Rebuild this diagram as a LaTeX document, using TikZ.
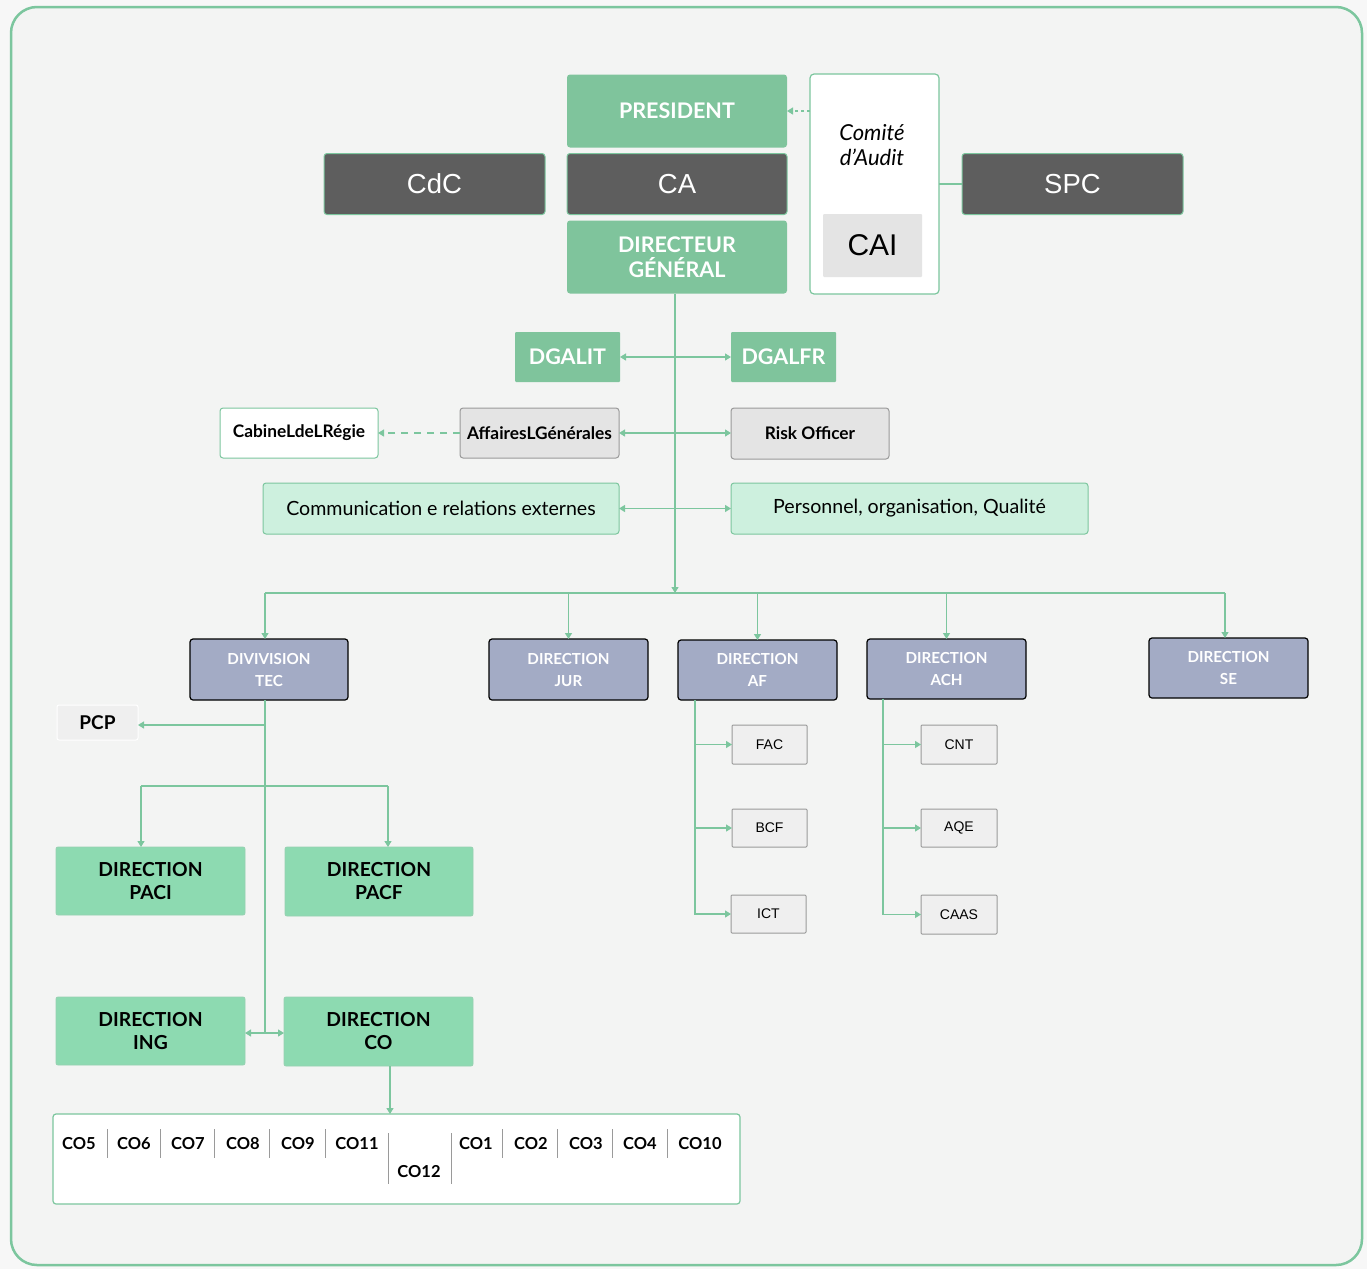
\documentclass[tikz,border=0pt]{standalone}
\usepackage{fontspec}
\setmainfont{Lato}
\newfontfamily\helv{Liberation Sans}
\usetikzlibrary{arrows.meta}
\definecolor{gline}{HTML}{7CC69E}
\definecolor{gfill}{HTML}{7FC49C}
\definecolor{dark}{HTML}{5E5E5E}
\definecolor{lgreen}{HTML}{CDF0DE}
\definecolor{mgreen}{HTML}{8DDAB1}
\definecolor{divb}{HTML}{A3ABC5}
\definecolor{lgray}{HTML}{E4E4E4}
\definecolor{vlgray}{HTML}{EFEFEF}
\definecolor{bgc}{HTML}{F3F4F3}
\definecolor{grayb}{HTML}{9A9A9A}
\tikzset{
  x=1pt,y=-1pt,
  base/.style={inner sep=0pt,outer sep=0pt,align=center,rounded corners=3pt},
  topgreen/.style={base,fill=gfill,text=white,font=\fontsize{21.5}{25}\selectfont\bfseries},
  darkbox/.style={base,fill=dark,draw=gline,line width=1pt,text=white,font=\helv\fontsize{27.5}{30}\selectfont},
  dga/.style={base,rounded corners=1pt,fill=gfill,text=white,font=\fontsize{21.5}{25}\selectfont\bfseries},
  graybox/.style={base,fill=lgray,draw=grayb,line width=1pt,font=\fontsize{17.3}{20}\selectfont\bfseries},
  whitebox/.style={base,fill=white,draw=gline,line width=1pt,font=\fontsize{17.3}{20}\selectfont\bfseries},
  lgbox/.style={base,fill=lgreen,draw=gline,line width=1pt,font=\fontsize{19.6}{23}\selectfont},
  divbox/.style={base,fill=divb,draw=black,line width=1.2pt,text=white,font=\fontsize{15.2}{22}\selectfont\bfseries},
  dirbox/.style={base,rounded corners=2pt,fill=mgreen,draw=gline!80,line width=0.8pt,font=\fontsize{19.3}{23}\selectfont\bfseries},
  subbox/.style={base,rounded corners=1pt,fill=vlgray,draw=grayb,line width=1pt,font=\helv\fontsize{14}{17}\selectfont},
  gl/.style={draw=gline,line width=1.3pt},
  tip/.tip={Triangle[length=6pt,width=7pt]},
  sep/.style={draw=grayb,line width=0.8pt},
  coitem/.style={inner sep=0pt,font=\fontsize{16.5}{19}\selectfont\bfseries},
}
\begin{document}
\begin{tikzpicture}
\useasboundingbox (0,0) rectangle (1367,1269);
\fill[white!97!black] (0,0) rectangle (1367,1269);
\draw[draw=gline,fill=bgc,line width=2.5pt,rounded corners=26pt] (11,7) rectangle (1362,1265);

% top
\node[topgreen,minimum width=220,minimum height=73] (pres) at (677,111) {PRESIDENT};
\node[darkbox,minimum width=220,minimum height=61] (ca) at (677,184) {CA};
\node[topgreen,minimum width=220,minimum height=73] (dg) at (677,257) {DIRECTEUR\\GÉNÉRAL};
\node[darkbox,minimum width=221,minimum height=61] (cdc) at (434.5,184) {CdC};
\node[darkbox,minimum width=221,minimum height=61] (spc) at (1072.5,184) {SPC};
\node[base,rounded corners=4pt,fill=white,draw=gline,line width=1.2pt,minimum width=129,minimum height=220] (cda) at (874.5,184) {};
\node[inner sep=0pt,align=center,font=\fontsize{22}{25}\selectfont\itshape] (cdat) at (872,145) {Comité\\d’Audit};
\node[base,rounded corners=1pt,fill=lgray,minimum width=99,minimum height=63,font=\helv\fontsize{30}{34}\selectfont] (cai) at (872.5,245.5) {CAI};
\draw[gl,dashed,dash pattern=on 3pt off 3pt,-tip] (cda.west |- pres.east) -- (pres.east);
\draw[gl] (cda.east |- spc.west) -- (spc.west);

% DGA level
\node[dga,minimum width=105,minimum height=50] (dgait) at (567.5,357) {DGALIT};
\node[dga,minimum width=105,minimum height=50] (dgafr) at (783.5,357) {DGALFR};
\node[whitebox,minimum width=158,minimum height=50] (cab) at (299,433) {CabineLdeLRégie};
\node[graybox,minimum width=159,minimum height=50] (aff) at (539.5,433) {AffairesLGénérales};
\node[graybox,minimum width=158,minimum height=51] (risk) at (810,433.5) {Risk Officer};
\node[lgbox,minimum width=356,minimum height=51] (com) at (441,508.5) {Communication e relations externes};
\node[lgbox,minimum width=357,minimum height=51] (pers) at (909.5,508.5) {Personnel, organisation, Qualité};

\coordinate (busc) at (675,593);
\draw[gl,-tip] (dg.south -| busc) -- (busc);
\draw[gl,tip-tip] (dgait.east) -- (dgafr.west);
\draw[gl,tip-tip] (aff.east) -- (aff.east -| risk.west);
\draw[gl,tip-tip] (com.east) -- (pers.west);
\draw[gl,dashed,dash pattern=on 7pt off 6pt,-tip] (aff.west) -- (cab.east);

% divisions
\node[divbox,minimum width=158,minimum height=61] (tec) at (269,669.5) {DIVIVISION\\TEC};
\node[divbox,minimum width=159,minimum height=61] (jur) at (568.5,669.5) {DIRECTION\\JUR};
\node[divbox,minimum width=159,minimum height=60] (af) at (757.5,670) {DIRECTION\\AF};
\node[divbox,minimum width=159,minimum height=60] (ach) at (946.5,669) {DIRECTION\\ACH};
\node[divbox,minimum width=159,minimum height=60] (se) at (1228.5,668) {DIRECTION\\SE};
\coordinate (busl) at (265,593);
\coordinate (busr) at (1225,593);
\draw[gl] (busl) -- (busr);
\draw[gl,-tip] (busl) -- (busl |- tec.north);
\foreach \n in {jur,af,ach} \draw[gl,-tip] (\n.north |- busc) -- (\n.north);
\draw[gl,-tip] (busr) -- (busr |- se.north);

% TEC subtree
\node[base,rounded corners=2pt,fill=vlgray,draw=white,line width=1pt,minimum width=81,minimum height=35,font=\fontsize{19}{22}\selectfont\bfseries] (pcp) at (97.5,722.5) {PCP};
\node[dirbox,minimum width=189,minimum height=68] (paci) at (150.5,881) {DIRECTION\\PACI};
\node[dirbox,minimum width=188,minimum height=69] (pacf) at (379,881.5) {DIRECTION\\PACF};
\node[dirbox,minimum width=189,minimum height=68] (ing) at (150.5,1031) {DIRECTION\\ING};
\node[dirbox,minimum width=189,minimum height=69] (co) at (378.5,1031.5) {DIRECTION\\CO};
\coordinate (tecs) at (265,700);
\coordinate (pacij) at (141,786);
\coordinate (pacfj) at (388,786);
\draw[gl] (tecs) -- (tecs |- 0,1033);
\draw[gl,-tip] (tecs |- 0,725) -- (pcp.east |- 0,725);
\draw[gl] (pacij) -- (pacfj);
\draw[gl,-tip] (pacij) -- (pacij |- paci.north);
\draw[gl,-tip] (pacfj) -- (pacfj |- pacf.north);
\draw[gl,tip-tip] (ing.east |- 0,1033) -- (co.west |- 0,1033);

% CO list
\node[base,fill=white,draw=gline,line width=1.2pt,minimum width=687,minimum height=90] (colist) at (396.5,1159) {};
\draw[gl,-tip] (co.south -| 390,0) -- (colist.north -| 390,0);
\foreach \t/\x in {CO5/79,CO6/134,CO7/188,CO8/243,CO9/298,CO11/357,CO1/476,CO2/531,CO3/586,CO4/640,CO10/700}
  \node[coitem] (c\t) at (\x,1144) {\t};
\node[coitem] (cCO12) at (419,1172) {CO12};
\foreach \x in {107,160,214,269,325,502,557,612,667} \draw[sep] (\x,1129) -- (\x,1158);
\foreach \x in {388,451} \draw[sep] (\x,1133) -- (\x,1184);

% AF subtree
\node[subbox,minimum width=75,minimum height=39] (fac) at (769.5,744.5) {FAC};
\node[subbox,minimum width=75,minimum height=38] (bcf) at (769.5,828) {BCF};
\node[subbox,minimum width=75,minimum height=38] (ict) at (768.5,914) {ICT};
\coordinate (afx) at (695,700);
\draw[gl,-tip] (afx) |- (ict.west);
\draw[gl,-tip] (afx |- fac.west) -- (fac.west);
\draw[gl,-tip] (afx |- bcf.west) -- (bcf.west);

% ACH subtree
\node[subbox,minimum width=76,minimum height=39] (cnt) at (959,744.5) {CNT};
\node[subbox,minimum width=76,minimum height=38] (aqe) at (959,828) {AQE};
\node[subbox,minimum width=76,minimum height=39] (caas) at (959,914.5) {CAAS};
\coordinate (achx) at (883,699);
\draw[gl,-tip] (achx) |- (caas.west);
\draw[gl,-tip] (achx |- cnt.west) -- (cnt.west);
\draw[gl,-tip] (achx |- aqe.west) -- (aqe.west);
\end{tikzpicture}
\end{document}
